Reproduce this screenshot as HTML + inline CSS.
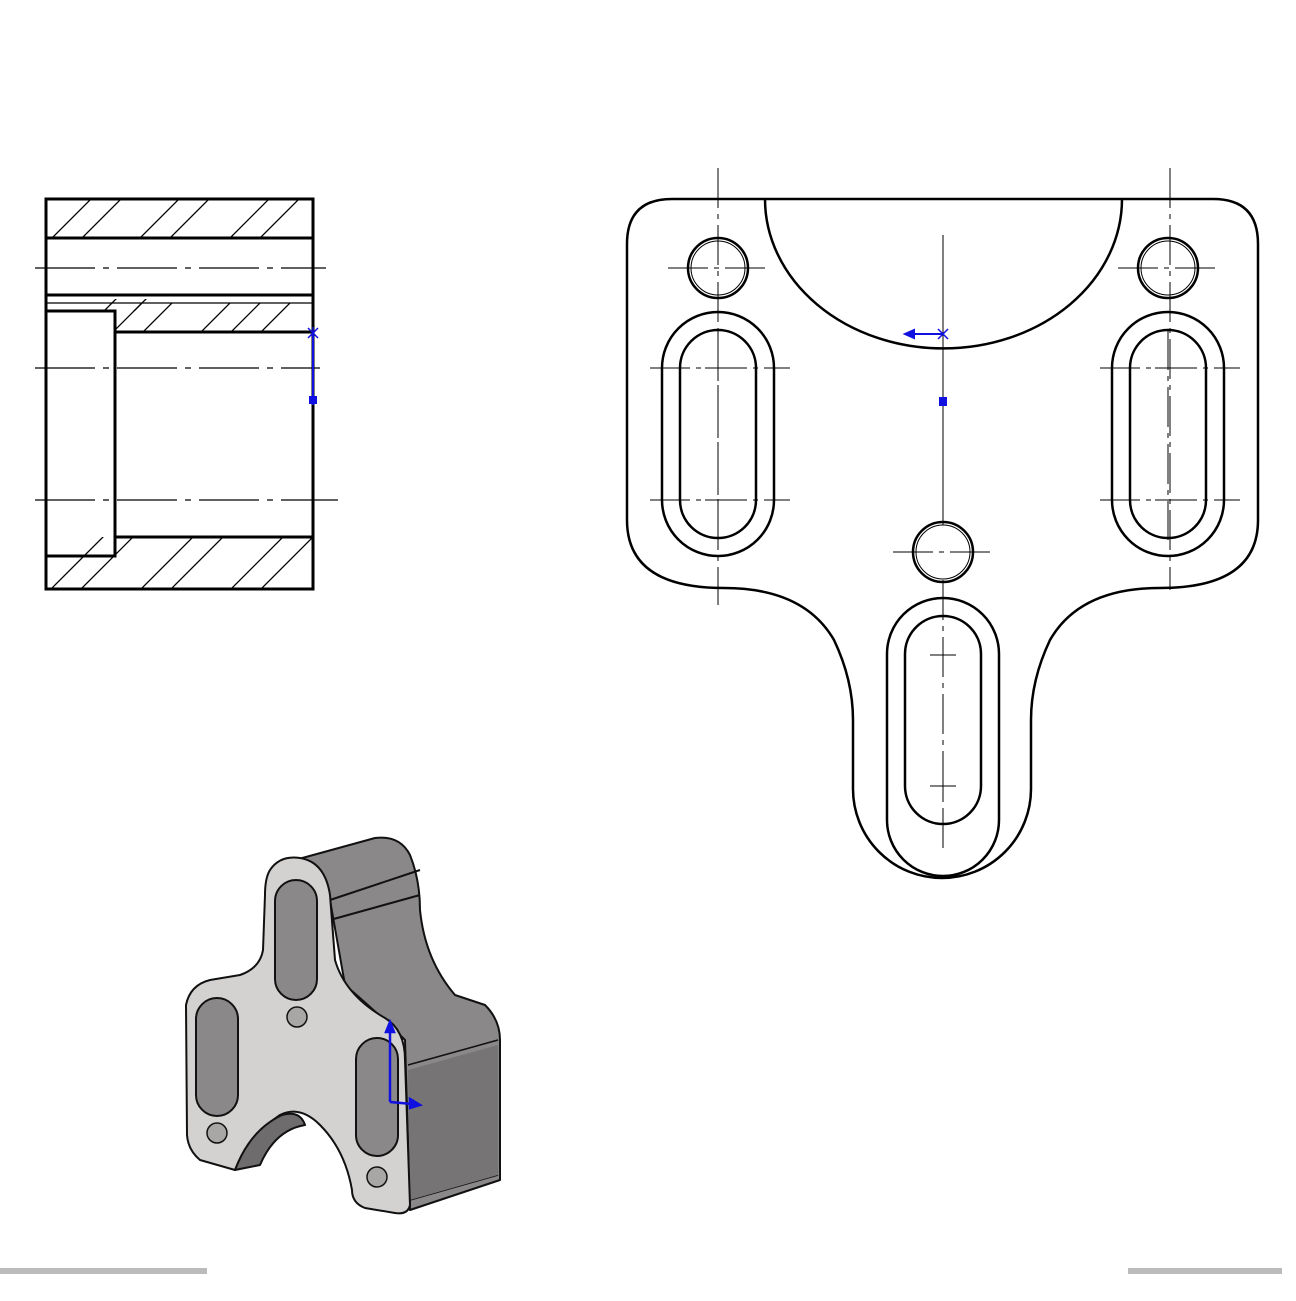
<!DOCTYPE html>
<html><head><meta charset="utf-8"><style>html,body{margin:0;padding:0;background:#fff}</style></head>
<body>
<svg width="1296" height="1296" viewBox="0 0 1296 1296" xmlns="http://www.w3.org/2000/svg">
<defs>
<clipPath id="h1"><rect x="46" y="199" width="267" height="38"/></clipPath>
<clipPath id="h2"><rect x="115" y="303" width="198" height="29"/></clipPath>
<clipPath id="h2b"><rect x="46" y="299" width="267" height="12"/></clipPath>
<clipPath id="h3"><rect x="46" y="537" width="267" height="52"/></clipPath>
</defs>
<!-- Section view -->
<g stroke="#000" fill="none">
<g stroke-width="1.3">
<g clip-path="url(#h1)"><path d="M40 250 L100 190 M70 250 L130 190 M128 250 L188 190 M158 250 L218 190 M218 250 L278 190 M248 250 L308 190"/></g>
<g clip-path="url(#h2)"><path d="M100 345 L160 285 M130 345 L190 285 M188 345 L248 285 M218 345 L278 285 M248 345 L308 285"/></g>
<g clip-path="url(#h2b)"><path d="M70 345 L130 285 M100 345 L160 285"/></g>
<g clip-path="url(#h3)"><path d="M40 600 L110 530 M70 600 L140 530 M130 600 L200 530 M160 600 L230 530 M220 600 L290 530 M250 600 L320 530"/></g>
</g>
<rect x="46" y="199" width="267" height="390" stroke-width="3"/>
<line x1="46" y1="238" x2="313" y2="238" stroke-width="3"/>
<line x1="46" y1="295" x2="313" y2="295" stroke-width="3"/>
<line x1="46" y1="303" x2="313" y2="303" stroke-width="1.3"/>
<line x1="115" y1="332" x2="313" y2="332" stroke-width="3"/>
<line x1="115" y1="537" x2="313" y2="537" stroke-width="3"/>
<rect x="46" y="311" width="69" height="245" stroke-width="3"/>
<g stroke-width="1.2" stroke-dasharray="60,8,6,8">
<line x1="35" y1="268" x2="326" y2="268"/>
<line x1="35" y1="368" x2="320" y2="368"/>
<line x1="35" y1="500" x2="338" y2="500"/>
</g>
</g>
<g stroke="#1010e0" stroke-width="2" fill="#1010e0">
<line x1="313" y1="332" x2="313" y2="405"/>
<path d="M308 328 L318 338 M318 328 L308 338 M313 327 L313 339" stroke-width="1.5"/>
<rect x="310" y="397" width="6" height="6"/>
</g>

<!-- Front view -->
<g stroke="#000" fill="none" stroke-width="2.5">
<path d="M672 199 L1213 199 Q1258 199 1258 244 L1258 520 Q1258 588 1160 588 Q1080 588 1050 640 Q1031 680 1031 720 L1031 789 A89 89 0 0 1 853 789 L853 720 Q853 680 834 640 Q804 588 724 588 Q627 588 627 520 L627 244 Q627 199 672 199 Z"/>
<path d="M765 199 A178 149 0 0 0 1122 199"/>
<circle cx="718" cy="268" r="30"/><circle cx="718" cy="268" r="27" stroke-width="1"/>
<circle cx="1168" cy="268" r="30"/><circle cx="1168" cy="268" r="27" stroke-width="1"/>
<circle cx="943" cy="552" r="30"/><circle cx="943" cy="552" r="27" stroke-width="1"/>
<rect x="662" y="312" width="112" height="244" rx="56"/>
<rect x="680" y="330" width="76" height="208" rx="38"/>
<rect x="1112" y="312" width="112" height="244" rx="56"/>
<rect x="1130" y="330" width="76" height="208" rx="38"/>
<rect x="887" y="598" width="112" height="278" rx="56"/>
<rect x="905" y="616" width="76" height="208" rx="38"/>
</g>
<g stroke="#000" stroke-width="1" fill="none">
<g stroke-dasharray="40,6,5,6">
<line x1="718" y1="168" x2="718" y2="605"/>
<line x1="1170" y1="168" x2="1170" y2="590"/>
<line x1="943" y1="580" x2="943" y2="850"/>
<line x1="668" y1="268" x2="768" y2="268"/>
<line x1="1118" y1="268" x2="1218" y2="268"/>
<line x1="893" y1="552" x2="993" y2="552"/>
<line x1="718" y1="330" x2="718" y2="540"/>
<line x1="1168" y1="330" x2="1168" y2="540"/>
<line x1="650" y1="368" x2="790" y2="368"/>
<line x1="1100" y1="368" x2="1240" y2="368"/>
<line x1="650" y1="500" x2="790" y2="500"/>
<line x1="1100" y1="500" x2="1240" y2="500"/>
</g>
<line x1="943" y1="235" x2="943" y2="525"/>
<path d="M930 655 L956 655 M943 642 L943 668 M930 786 L956 786 M943 773 L943 799"/>
<path d="M705 368 L731 368 M705 500 L731 500 M1155 368 L1181 368 M1155 500 L1181 500"/>
</g>
<g stroke="#1010e0" stroke-width="2" fill="#1010e0">
<line x1="908" y1="334" x2="943" y2="334"/>
<path d="M938 329 L948 339 M948 329 L938 339" stroke-width="1.5"/>
<path d="M905 334 L914 330 L914 338 Z"/>
<rect x="940" y="398" width="6" height="7"/>
</g>

<!-- 3D view -->
<g stroke="#111" stroke-width="2" stroke-linejoin="round">
<path d="M295 860 L375 838 Q400 835 410 855 Q420 880 420 910 Q425 960 455 995 L485 1005 Q500 1020 500 1040 L500 1180 L410 1210 L405 1040 Q380 1015 345 985 L330 900 Z" fill="#8a8888"/>
<path d="M330 920 L420 895 M330 900 L420 870" fill="none"/>
<path d="M408 1065 L498 1040 M410 1200 L498 1175" fill="none" stroke-width="1.5"/>
<path d="M408 1070 L498 1045 L498 1175 L410 1200 Z" fill="#767474" stroke="none"/>
<path d="M270 870 Q280 855 300 858 Q325 862 330 895 L335 960 Q345 995 385 1018 Q405 1030 405 1060 L410 1205 Q408 1215 395 1213 L365 1208 Q352 1203 352 1190 Q345 1150 320 1125 Q300 1105 280 1115 Q250 1135 235 1170 L200 1160 Q188 1150 187 1135 L186 1005 Q190 985 210 980 L240 975 Q260 968 263 950 L265 895 Q265 878 270 870 Z" fill="#d4d2d1"/>
<path d="M235 1170 Q250 1130 282 1115 Q300 1110 305 1125 Q275 1130 260 1165 Z" fill="#6e6c6c"/>
<g fill="#8a8888">
<rect x="275" y="880" width="42" height="120" rx="21"/>
<rect x="196" y="998" width="42" height="118" rx="21"/>
<rect x="356" y="1038" width="42" height="118" rx="21"/>
</g>
<g fill="#a9a7a6" stroke-width="1.5">
<circle cx="297" cy="1017" r="10"/>
<circle cx="217" cy="1133" r="10"/>
<circle cx="377" cy="1177" r="10"/>
</g>
</g>
<g stroke="#1010e0" stroke-width="2.5" fill="#1010e0">
<line x1="390" y1="1025" x2="390" y2="1102"/>
<line x1="390" y1="1102" x2="412" y2="1104"/>
<path d="M386 1032 L390 1022 L394 1032 Z"/>
<path d="M410 1099 L420 1105 L410 1108 Z"/>
</g>
<!-- bottom gray bars -->
<rect x="0" y="1268" width="207" height="6" fill="#bbb"/>
<rect x="1128" y="1268" width="154" height="6" fill="#bbb"/>
</svg>
</body></html>
